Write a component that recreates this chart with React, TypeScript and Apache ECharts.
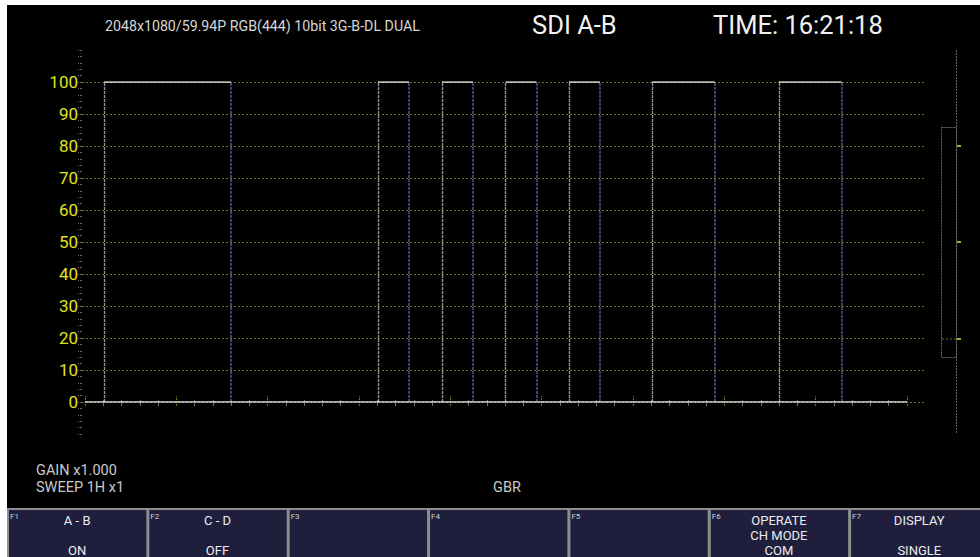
import React, { useEffect, useRef } from 'react';
import * as echarts from 'echarts';

// ---- texts ----
const HEADER_FORMAT = '2048x1080/59.94P RGB(444) 10bit 3G-B-DL DUAL';
const HEADER_MODE = 'SDI A-B';
const HEADER_TIME = 'TIME: 16:21:18';
const STATUS_LINES = ['GAIN x1.000', 'SWEEP 1H x1'];
const COLOR_SYSTEM = 'GBR';

// ---- scales ----
const Y_MIN = 0;
const Y_MAX = 100;
const Y_STEP = 10;
const SCALE_MIN = -10;
const SCALE_MAX = 110;
const SCALE_STEP = 2;
const X_MIN = 0;
const X_MAX = 45; // sweep width in minor divisions
const X_STEP = 5;

// ---- waveform (transition positions in minor divisions, levels in %) ----
const EDGES = [1.04, 7.99, 16.04, 17.75, 19.54, 21.24, 23.03, 24.72, 26.49, 28.19, 31.03, 34.48, 37.99, 41.43];
const HIGH_LEVEL = 100;
const LOW_LEVEL = 0;

// ---- function keys ----
const KEY_NAMES = ['F1', 'F2', 'F3', 'F4', 'F5', 'F6', 'F7'];
const KEY_TOP = ['A - B', 'C - D', '', '', '', 'OPERATE', 'DISPLAY'];
const KEY_MID = ['', '', '', '', '', 'CH MODE', ''];
const KEY_BOTTOM = ['ON', 'OFF', '', '', '', 'COM', 'SINGLE'];

const FONT = 'Roboto, "Liberation Sans", Arial, sans-serif';

export default function App() {
  const ref = useRef<HTMLDivElement>(null);

  useEffect(() => {
    if (!ref.current) return;
    const chart = echarts.init(ref.current, undefined, { renderer: 'svg' });

    const highSegs: number[][][] = [];
    for (let i = 0; i + 1 < EDGES.length; i += 2) {
      highSegs.push([[EDGES[i], HIGH_LEVEL], [EDGES[i + 1], HIGH_LEVEL]]);
    }
    const risingSegs = EDGES.filter((_, i) => i % 2 === 0).map((e) => [[e, LOW_LEVEL], [e, HIGH_LEVEL]]);
    const fallingSegs = EDGES.filter((_, i) => i % 2 === 1).map((e) => [[e, LOW_LEVEL], [e, HIGH_LEVEL]]);
    const baseSegs = [[[X_MIN, LOW_LEVEL], [X_MAX, LOW_LEVEL]]];

    const linesSeries = (segs: number[][][], color: string, width: number, type: any, z: number) => ({
      type: 'lines',
      coordinateSystem: 'cartesian2d',
      xAxisIndex: 1,
      yAxisIndex: 1,
      polyline: false,
      silent: true,
      z,
      lineStyle: { color, width, type, opacity: 1 },
      data: segs.map((c) => ({ coords: c })),
    });

    const graphics: any[] = [];
    const txt = (text: string, x: number, y: number, size: number, fill: string, align = 'left') => ({
      type: 'text',
      x,
      y,
      silent: true,
      style: {
        text,
        fill,
        fontSize: size,
        lineHeight: size,
        fontFamily: FONT,
        align,
        verticalAlign: 'middle',
      },
    });

    // header
    graphics.push(txt(HEADER_FORMAT, 98, 21, 14.2, '#d6d6d6'));
    graphics.push(txt(HEADER_MODE, 525, 20, 25.5, '#f2f2f2'));
    graphics.push(txt(HEADER_TIME, 706, 20, 25.5, '#f2f2f2'));

    // status
    graphics.push(txt(STATUS_LINES[0], 29, 465, 14.5, '#c8c8c8'));
    graphics.push(txt(STATUS_LINES[1], 29, 482, 14.5, '#c8c8c8'));
    graphics.push(txt(COLOR_SYSTEM, 486, 482, 14.5, '#c8c8c8'));

    // right level bracket
    graphics.push({
      type: 'line',
      silent: true,
      shape: { x1: 949.5, y1: 45, x2: 949.5, y2: 429 },
      style: { stroke: '#6a6a6a', lineWidth: 1, lineDash: [2, 1] },
    });
    graphics.push({
      type: 'rect',
      silent: true,
      shape: { x: 934.5, y: 122.5, width: 15, height: 230 },
      style: { fill: 'none', stroke: '#6a6a6a', lineWidth: 1, lineDash: [2, 1] },
    });
    graphics.push({
      type: 'line',
      silent: true,
      shape: { x1: 935, y1: 334, x2: 949, y2: 334 },
      style: { stroke: '#6e6e28', lineWidth: 1, lineDash: [2, 2] },
    });
    [141, 237, 334].forEach((y) =>
      graphics.push({
        type: 'rect',
        silent: true,
        shape: { x: 950, y: y - 1, width: 4, height: 2 },
        style: { fill: '#a8a822' },
      })
    );

    // function keys
    const KEY_X0 = 0;
    const KEY_W = 140.35;
    const KEY_Y = 503;
    KEY_NAMES.forEach((name, i) => {
      const x = KEY_X0 + i * KEY_W;
      graphics.push({
        type: 'rect',
        silent: true,
        shape: { x: x + 1, y: KEY_Y + 1, width: KEY_W - 1, height: 60 },
        style: { fill: '#1f1f3d', stroke: '#8e8e8e', lineWidth: 2 },
      });
      graphics.push(txt(name, x + 3, KEY_Y + 8, 8, '#cfcfcf'));
      const cx = x + KEY_W / 2;
      if (KEY_TOP[i]) graphics.push(txt(KEY_TOP[i], cx, KEY_Y + 12.5, 13, '#ececec', 'center'));
      if (KEY_MID[i]) graphics.push(txt(KEY_MID[i], cx, KEY_Y + 27, 13, '#ececec', 'center'));
      if (KEY_BOTTOM[i]) graphics.push(txt(KEY_BOTTOM[i], cx, KEY_Y + 42, 13, '#ececec', 'center'));
    });

    const option: any = {
      animation: false,
      backgroundColor: '#000000',
      grid: [
        { left: 75, width: 843, top: 77, height: 320, outerBoundsMode: 'none', containLabel: false },
        { left: 78, width: 822, top: 77, height: 320, outerBoundsMode: 'none', containLabel: false },
        { left: 75, width: 1, top: 45, height: 384, outerBoundsMode: 'none', containLabel: false },
      ],
      xAxis: [
        { gridIndex: 0, type: 'value', min: 0, max: 1, show: false },
        {
          gridIndex: 1,
          type: 'value',
          min: X_MIN,
          max: X_MAX,
          interval: X_STEP,
          position: 'bottom',
          offset: 4,
          axisLine: { show: false, onZero: false },
          axisLabel: { show: false },
          splitLine: { show: false },
          axisTick: { show: true, inside: true, length: 10, lineStyle: { color: '#75752c', width: 1, type: [2, 1] } },
          minorTick: { show: true, splitNumber: 5, length: 6, lineStyle: { color: '#707070', width: 1 } },
        },
        { gridIndex: 2, type: 'value', min: 0, max: 1, show: false },
      ],
      yAxis: [
        {
          gridIndex: 0,
          type: 'value',
          min: Y_MIN,
          max: Y_MAX,
          interval: Y_STEP,
          axisLine: { show: false },
          axisTick: { show: false },
          axisLabel: { show: true, color: '#e2e21e', fontSize: 17, fontFamily: FONT, margin: 4 },
          splitLine: { show: true, lineStyle: { color: '#72722a', width: 1, type: [2, 2] } },
        },
        { gridIndex: 1, type: 'value', min: Y_MIN, max: Y_MAX, show: false },
        {
          gridIndex: 2,
          type: 'value',
          min: SCALE_MIN,
          max: SCALE_MAX,
          interval: SCALE_STEP,
          axisLine: { show: false },
          axisLabel: { show: false },
          splitLine: { show: false },
          axisTick: { show: true, inside: false, length: 4, lineStyle: { color: '#6a6a6a', width: 1, type: [2, 1] } },
        },
      ],
      series: [
        linesSeries(fallingSegs, '#56568a', 1.5, [3, 1], 2),
        linesSeries(risingSegs, '#9a9aae', 1.3, [3, 1], 3),
        linesSeries(baseSegs, '#e6e6e6', 1.5, 'solid', 4),
        linesSeries(highSegs, '#eeeeee', 1.5, 'solid', 5),
      ],
      graphic: graphics,
    };

    chart.setOption(option);
    return () => chart.dispose();
  }, []);

  return (
    <div
      ref={ref}
      style={{ position: 'absolute', left: 7, top: 5, width: 973, height: 552, background: '#000' }}
    />
  );
}
